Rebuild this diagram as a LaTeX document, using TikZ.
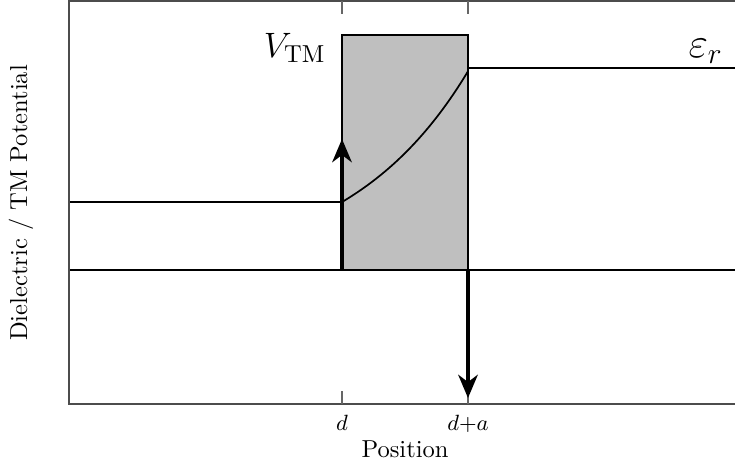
\documentclass[tikz,border=0pt]{standalone}
\usetikzlibrary{arrows.meta}
\begin{document}
\begin{tikzpicture}[x=0.408pt,y=-0.408pt,
  axisline/.style={draw=black!70,line width=0.5pt},
  ticksty/.style={draw=black!60,line width=0.5pt},
  curvesty/.style={draw=black,line width=0.7pt},
  barrier/.style={fill=black!25,draw=black,line width=0.9pt},
  fieldarrow/.style={draw=black,line width=1.3pt,-{Stealth[length=9.5pt,width=8pt,inset=3pt]}},
  ticklab/.style={font=\small,inner sep=0pt},
  biglab/.style={font=\Large,inner sep=0pt}]
\useasboundingbox (0,0) rectangle (735,466);
% frame
\coordinate (tl) at (69,1);
\coordinate (bl) at (69,404);
\coordinate (tr) at (736,1);
\coordinate (br) at (736,404);
% barrier box
\coordinate (boxA) at (342,35);
\coordinate (boxB) at (468,270);
\path[barrier] (boxA) rectangle (boxB);
% levels
\coordinate (z0) at (69,270);
\coordinate (z1) at (736,270);
\coordinate (l0) at (69,202);
\coordinate (l1) at (342,202);
\coordinate (r0) at (468,68);
\coordinate (r1) at (736,68);
\draw[curvesty] (z0) -- (z1);
\draw[curvesty] (l0) -- (l1);
\draw[curvesty] (r0) -- (r1);
\draw[curvesty] plot[domain=0:126,samples=60] ({342+\x},{202-69.9*(exp(0.0082*\x)-1)*1.035});
% axes frame
\draw[axisline] (tr) -- (tl) -- (bl) -- (br);
% ticks
\coordinate (t1a) at (342,1);  \coordinate (t1b) at (342,14);
\coordinate (t2a) at (468,1);  \coordinate (t2b) at (468,14);
\coordinate (b1a) at (342,391); \coordinate (b1b) at (342,404);
\coordinate (b2a) at (468,391); \coordinate (b2b) at (468,404);
\draw[ticksty] (t1a) -- (t1b);
\draw[ticksty] (t2a) -- (t2b);
\draw[ticksty] (b1a) -- (b1b);
\draw[ticksty] (b2a) -- (b2b);
% arrows
\coordinate (ua) at (342,270);
\coordinate (ub) at (342,139);
\coordinate (da) at (468,270);
\coordinate (db) at (468,398);
\draw[fieldarrow] (ua) -- (ub);
\draw[fieldarrow] (da) -- (db);
% labels
\node[ticklab,anchor=base] (dl) at (342,430) {$d$};
\node[ticklab,anchor=base] (dal) at (468,430) {$d{+}a$};
\node[inner sep=0pt,anchor=base] (xl) at (405,457) {Position};
\node[inner sep=0pt,rotate=90,anchor=base] (yl) at (27,203) {Dielectric / TM Potential};
\node[biglab,anchor=base east] (vtm) at (326,57) {$V_{\mathrm{TM}}$};
\node[font=\LARGE,inner sep=0pt,anchor=base west] (eps) at (688,57) {$\varepsilon_r$};
\end{tikzpicture}
\end{document}
